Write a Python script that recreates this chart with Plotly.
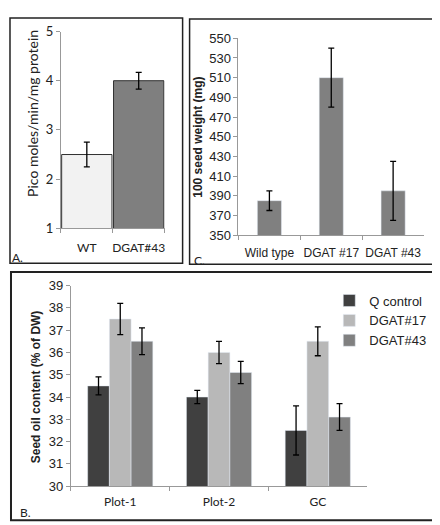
import plotly.graph_objects as go

W, H = 440, 525

# Panel A data
a_cats = ["WT", "DGAT#43"]
a_vals = [2.5, 4.0]
a_err = [0.25, 0.17]
a_ticks = [1, 2, 3, 4, 5]

# Panel C data
c_cats = ["Wild type", "DGAT #17", "DGAT #43"]
c_vals = [385, 510, 395]
c_err = [10, 30, 30]
c_ticks = [350, 370, 390, 410, 430, 450, 470, 490, 510, 530, 550]

# Panel B data
b_cats = ["Plot-1", "Plot-2", "GC"]
b_series = ["Q control", "DGAT#17", "DGAT#43"]
b_q = [34.5, 34.0, 32.5]
b_q_err = [0.4, 0.3, 1.1]
b_17 = [37.5, 36.0, 36.5]
b_17_err = [0.7, 0.5, 0.65]
b_43 = [36.5, 35.1, 33.1]
b_43_err = [0.6, 0.5, 0.6]
b_ticks = [30, 31, 32, 33, 34, 35, 36, 37, 38, 39]


def px_x(a, b):
    return [a / W, b / W]


def px_y(top, bottom):
    return [1 - bottom / H, 1 - top / H]


fig = go.Figure()

err_style = dict(type="data", color="black", thickness=1.3, width=3)

# Panel A
fig.add_trace(go.Bar(
    x=a_cats, y=a_vals, xaxis="x", yaxis="y",
    marker=dict(color=["#f2f2f2", "#7f7f7f"], line=dict(color="#303030", width=1)),
    error_y=dict(array=a_err, **err_style), showlegend=False, width=0.97,
))

# Panel C
fig.add_trace(go.Bar(
    x=c_cats, y=c_vals, xaxis="x2", yaxis="y2",
    marker=dict(color="#808080"),
    error_y=dict(array=c_err, **err_style), showlegend=False, width=0.39,
))

# Panel B
b_colors = ["#404040", "#b8b8b8", "#808080"]
for name, vals, errs, col in zip(b_series, [b_q, b_17, b_43], [b_q_err, b_17_err, b_43_err], b_colors):
    fig.add_trace(go.Bar(
        x=b_cats, y=vals, name=name, xaxis="x3", yaxis="y3",
        marker=dict(color=col),
        error_y=dict(array=errs, **err_style),
    ))

axis_common = dict(showgrid=False, zeroline=False, showline=True, linecolor="#999999",
                   linewidth=1, ticks="outside", tickcolor="#999999", ticklen=4, fixedrange=True)

calibri = "Lato, Open Sans, sans-serif"
arial = "Liberation Sans, Arial, sans-serif"

fig.update_layout(
    width=W, height=H,
    margin=dict(l=0, r=0, t=0, b=0),
    paper_bgcolor="white", plot_bgcolor="white",
    barmode="group", bargap=0.34, bargroupgap=0,
    showlegend=True,
    legend=dict(x=322 / W, y=1 - 278 / H, xanchor="left", yanchor="top",
                font=dict(family=arial, size=13, color="#222"), tracegroupgap=0,
                itemwidth=30, bgcolor="rgba(0,0,0,0)"),
    xaxis=dict(domain=px_x(53, 157), anchor="y", tickfont=dict(family=calibri, size=12, color="#222"),
               tickson="boundaries", ticklabelstandoff=8, tickangle=0, **axis_common),
    yaxis=dict(domain=px_y(16, 219), anchor="x", range=[1, 5], tickvals=a_ticks,
               tickfont=dict(family=calibri, size=13, color="#222"), **axis_common),
    xaxis2=dict(domain=px_x(231, 417), anchor="y2", tickfont=dict(family=arial, size=12, color="#222"),
                tickson="boundaries", ticklabelstandoff=6, tickangle=0, **axis_common),
    yaxis2=dict(domain=px_y(23, 226), anchor="x2", range=[350, 550], tickvals=c_ticks,
                tickfont=dict(family=arial, size=13, color="#222"), **axis_common),
    xaxis3=dict(domain=px_x(63, 360), anchor="y3", tickfont=dict(family=calibri, size=12, color="#222"),
                tickson="boundaries", ticklabelstandoff=4, tickangle=0, **axis_common),
    yaxis3=dict(domain=px_y(278, 485), anchor="x3", range=[30, 39], tickvals=b_ticks,
                tickfont=dict(family=arial, size=13, color="#222"), **axis_common),
)

# Panel borders
for (x0, y0, x1, y1, w) in [(2, 2, 175, 255, 1.5), (182, 3, 431, 256, 1.5), (3, 264, 432, 520, 2)]:
    fig.add_shape(type="rect", xref="paper", yref="paper",
                  x0=x0 / W, x1=x1 / W, y0=1 - y1 / H, y1=1 - y0 / H,
                  line=dict(color="#222222", width=w), fillcolor="rgba(0,0,0,0)")

# Axis titles and panel labels
ann = [
    dict(text="Pico moles/min/mg protein", x=25, y=100, textangle=-90, font=dict(family=calibri, size=14, color="#222")),
    dict(text="<b>100 seed weight (mg)</b>", x=191, y=125, textangle=-90, font=dict(family=arial, size=12, color="#222")),
    dict(text="<b>Seed oil content (% of DW)</b>", x=28, y=382, textangle=-90, font=dict(family=arial, size=12, color="#222")),
    dict(text="A.", x=10, y=249, font=dict(family=calibri, size=12, color="#222")),
    dict(text="C.", x=192, y=252, font=dict(family=calibri, size=12, color="#222")),
    dict(text="B.", x=18, y=512, font=dict(family=calibri, size=12, color="#222")),
]
for a in ann:
    fig.add_annotation(xref="paper", yref="paper", x=a["x"] / W, y=1 - a["y"] / H,
                       text=a["text"], textangle=a.get("textangle", 0), font=a["font"],
                       showarrow=False, xanchor="center", yanchor="middle")

fig.write_html("out.html")
